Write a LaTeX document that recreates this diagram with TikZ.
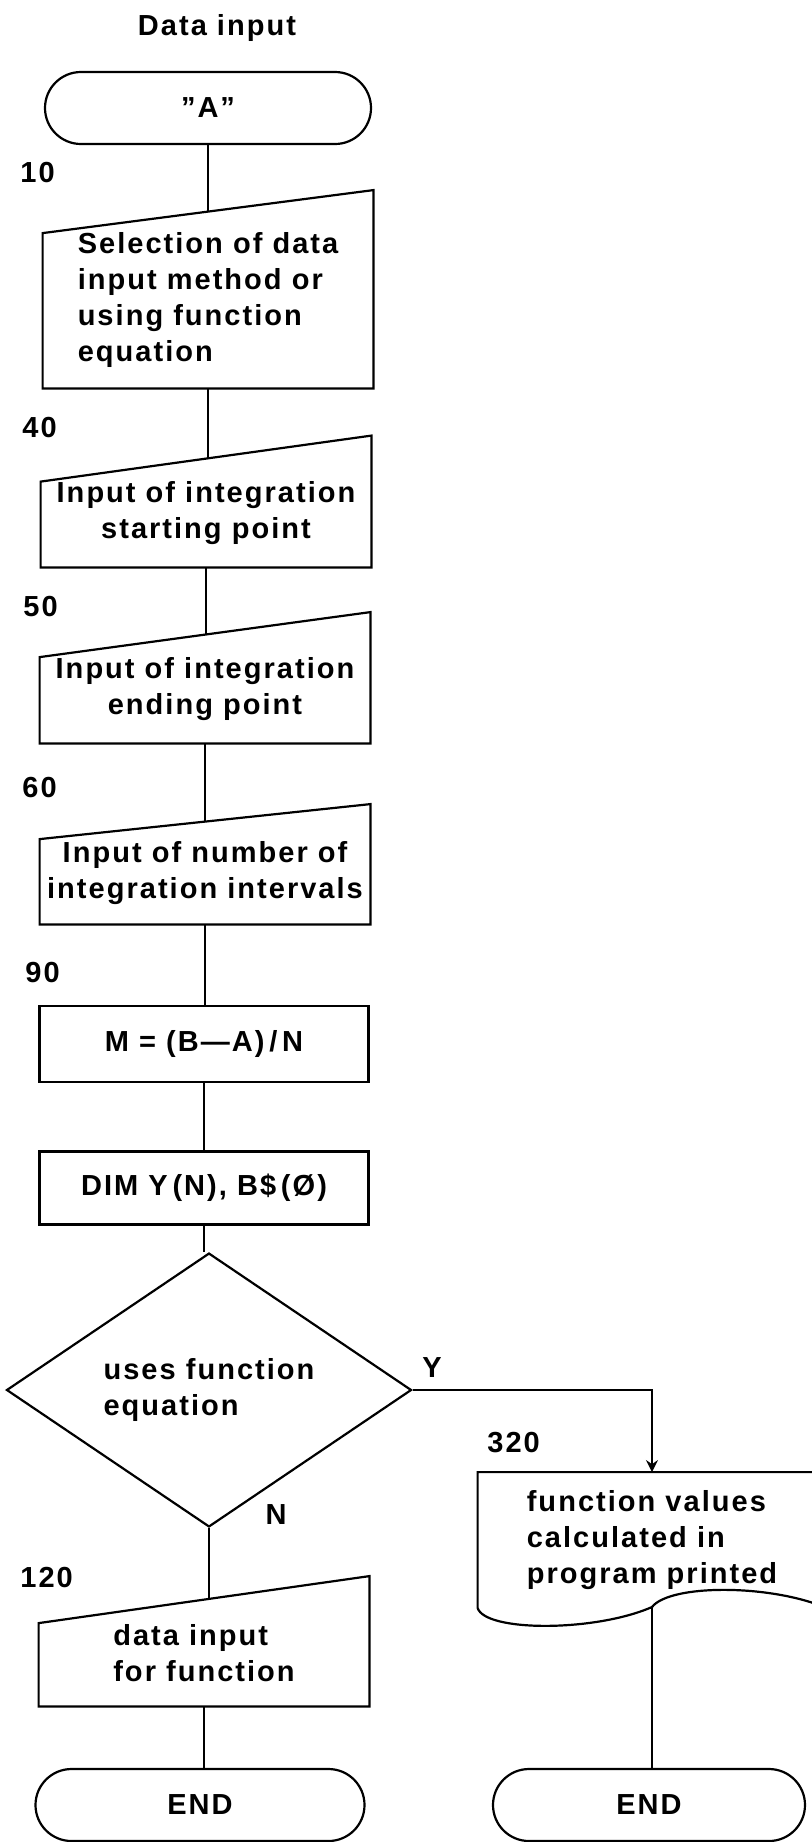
\documentclass[tikz,border=0pt]{standalone}
\usepackage{fontspec}
\setmainfont{Liberation Sans}[LetterSpace=7]
\usetikzlibrary{shapes.geometric,arrows.meta}

\begin{document}
\begin{tikzpicture}[
  x=0.5pt, y=-0.5pt,
  every node/.style={font=\fontsize{14.5}{18}\selectfont\bfseries, inner sep=0pt},
  term/.style={draw, line width=1.1pt, rounded corners=18pt, minimum height=36pt},
  inbox/.style={minimum width=165pt, align=center},
  proc/.style={draw, line width=1.1pt, minimum width=164.5pt},
  decide/.style={draw, line width=1.1pt, diamond, minimum width=202.5pt, minimum height=111pt, align=left},
  num/.style={anchor=west},
  outline/.style={line width=1.1pt},
  link/.style={line width=1pt}
]
\path[use as bounding box, clip] (0,0) rectangle (812,1842);

% main column
\node (title) at (217,28) {Data input};
\node[term, minimum width=163pt] (startA) at (208,108) {”A”};
\node[num] (l10) at (20,173) {10};
\node[inbox, minimum height=88pt, align=left] (sel) at (208,300) {Selection of data\\input method or\\using function\\equation};
\node[num] (l40) at (22,428) {40};
\node[inbox, minimum height=54pt] (start) at (206,513) {Input of integration\\starting point};
\node[num] (l50) at (23,607) {50};
\node[inbox, minimum height=54pt] (endpt) at (205,689) {Input of integration\\ending point};
\node[num] (l60) at (22,788) {60};
\node[inbox, minimum height=51pt] (count) at (205,873) {Input of number of\\integration intervals};
\node[num] (l90) at (25,973) {90};
\node[proc, minimum height=38pt] (mcalc) at (204,1044) {M = (B—A)\,/\,N};
\node[proc, minimum height=36.5pt] (dim) at (204,1188) {DIM Y\,(N), B\$\,(Ø)};
\node[decide] (ask) at (209,1390) {uses function\\equation};
\node (yes) at (432,1368) {Y};
\node (no) at (276,1515) {N};
\node[num] (l120) at (20,1577) {120};
\node[inbox, minimum height=53pt, align=left] (fdata) at (204,1653) {data input\\for function};
\node[term, minimum width=164.5pt] (endl) at (200,1805) {END};

% right branch
\node[num] (l320) at (487,1443) {320};
\node[minimum width=174pt, minimum height=67.5pt, align=left] (prnt) at (652,1540) {function values\\calculated in\\program printed};
\coordinate (wave) at (652,1607);
\node[term, minimum width=156pt] (endr) at (649,1805) {END};

% manual input outlines
\foreach \n/\s in {sel/10.75pt, start/11.5pt, endpt/11.25pt, count/8.75pt, fdata/11.75pt}
  \draw[outline] (\n.south west) -- ([yshift=-\s]\n.north west) -- ([yshift=\s]\n.north east) -- (\n.south east) -- cycle;
% printed document
\draw[outline] (prnt.south east) .. controls (770,1584) and (670,1584) .. (wave)
  .. controls (595,1632) and (485,1632) .. (prnt.south west) -- (prnt.north west) -- (prnt.north east) -- cycle;

% connectors
\foreach \a/\b in {startA/sel, sel/start, start/endpt, endpt/count, count/mcalc, mcalc/dim, dim/ask, ask/fdata, fdata/endl}
  \draw[link] (\a.south) -- (\a.south |- \b.north);
\draw[link, -{Stealth[length=6pt, width=6pt, inset=2pt]}] (ask.east) -| (prnt.north);
\draw[link] (wave) -- (wave |- endr.north);
\end{tikzpicture}
\end{document}
